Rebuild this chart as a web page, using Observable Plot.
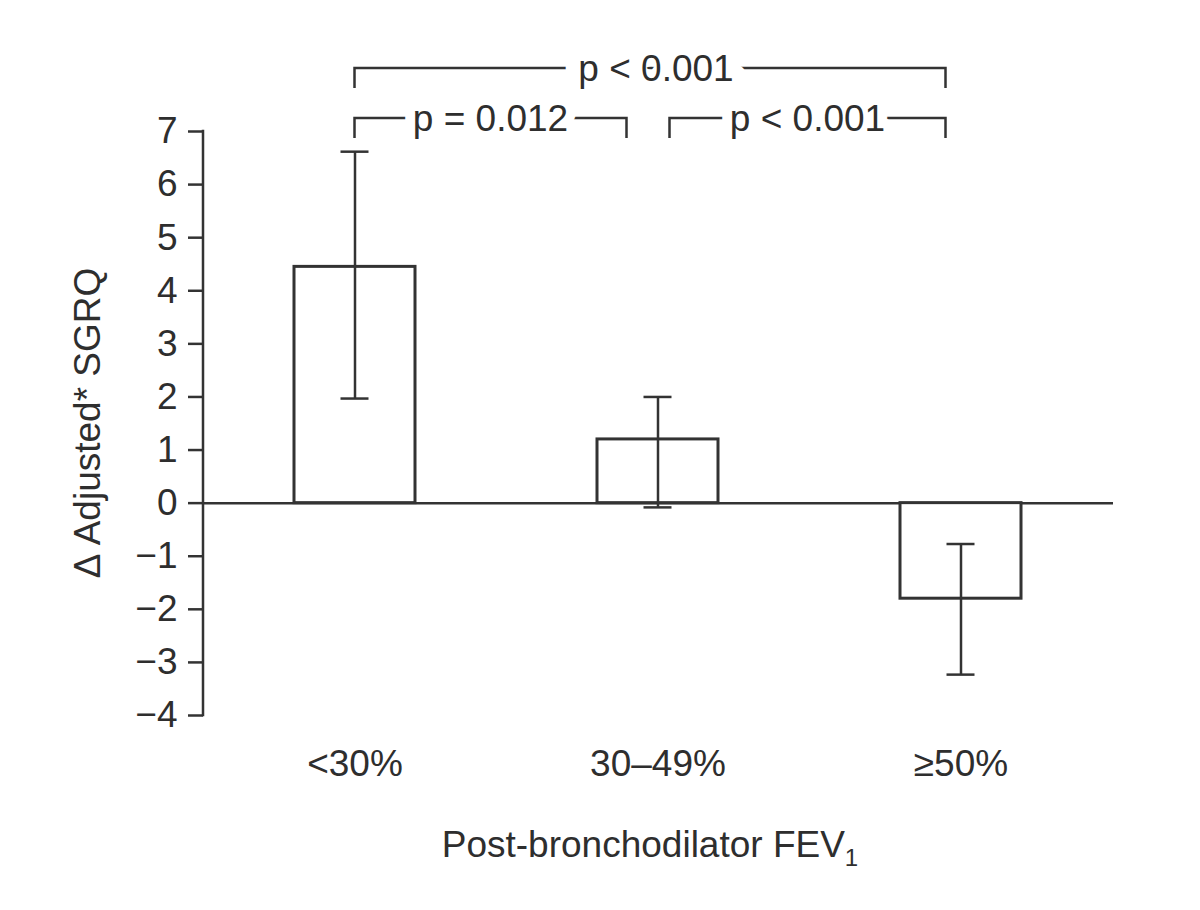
<!DOCTYPE html>
<html><head><meta charset="utf-8">
<script src="https://cdn.jsdelivr.net/npm/d3@7"></script>
<script src="https://cdn.jsdelivr.net/npm/@observablehq/plot@0.6"></script>
<style>
  html,body{margin:0;padding:0;background:#fff}
  #chart svg{display:block}
</style>
</head><body><div id="chart"></div>
<script>
// ---- data ----
const categories = ["<30%", "30–49%", "≥50%"];
const means = [4.45, 1.2, -1.8];
const lower = [1.97, -0.08, -3.23];
const upper = [6.62, 2.0, -0.77];
const yTicks = [-4, -3, -2, -1, 0, 1, 2, 3, 4, 5, 6, 7];
const compFrom = ["<30%", "30–49%", "<30%"];
const compTo = ["30–49%", "≥50%", "≥50%"];
const pLabels = ["p = 0.012", "p < 0.001", "p < 0.001"];
const yLabel = "Δ Adjusted* SGRQ";
const xLabel = "Post-bronchodilator FEV";
const xLabelSub = "1";

// ---- style ----
const INK = "#333";
const TXT = "#2e2e2e";
const FONT = "'Liberation Sans', Arial, Helvetica, sans-serif";
const FS = 37;
const SW = 2.5;
const bracketLevel = [0, 0, 1];
const bracketDxFrom = [0, 12, 0];
const bracketDxTo = [-31, -15, -15];
const bracketHalo = [20, 20, 30];

const data = categories.map((c, i) => ({cat: c, mean: means[i], lo: lower[i], hi: upper[i]}));

function annotations(index, scales, values, dims) {
  const {x, y} = scales;
  const bw = x.bandwidth();
  const cx = (c) => x(c) + bw / 2;
  const g = d3.create("svg:g");
  const lines = g.append("g").attr("fill", "none").attr("stroke", INK).attr("stroke-width", SW);
  // y axis line
  lines.append("line")
    .attr("x1", dims.marginLeft).attr("x2", dims.marginLeft)
    .attr("y1", y(yTicks[0]) + 1.25).attr("y2", y(yTicks[yTicks.length - 1]) - 1.25);
  // brackets
  const top7 = y(yTicks[yTicks.length - 1]);
  const halos = g.append("g").attr("font-family", FONT).attr("font-size", FS)
    .attr("fill", "white").attr("stroke", "white").attr("stroke-linejoin", "round");
  const texts = g.append("g").attr("font-family", FONT).attr("font-size", FS).attr("fill", TXT);
  compFrom.forEach((a, i) => {
    const x1 = cx(a) + bracketDxFrom[i];
    const x2 = cx(compTo[i]) + bracketDxTo[i];
    const yy = top7 - 13 - 50 * bracketLevel[i];
    const tx = (x1 + x2) / 2 + (bracketLevel[i] ? 6 : 0);
    lines.append("path").attr("d", `M${x1},${yy + 20}V${yy}H${x2}V${yy + 20}`);
    halos.append("text")
      .attr("x", tx).attr("y", yy).attr("dy", "0.35em")
      .attr("text-anchor", "middle")
      .attr("stroke-width", bracketHalo[i])
      .text(pLabels[i]);
    texts.append("text")
      .attr("x", tx).attr("y", yy).attr("dy", "0.35em")
      .attr("text-anchor", "middle")
      .text(pLabels[i]);
  });
  // x label with subscript
  const xl = texts.append("text")
    .attr("x", (dims.marginLeft + dims.width - dims.marginRight) / 2 - 8)
    .attr("y", y(yTicks[0]) + 142)
    .attr("text-anchor", "middle");
  xl.append("tspan").text(xLabel);
  xl.append("tspan").attr("font-size", 24).attr("dy", 9).text(xLabelSub);
  // y label
  const ymid = (y(yTicks[0]) + y(yTicks[yTicks.length - 1])) / 2;
  texts.append("text")
    .attr("transform", `translate(100,${ymid}) rotate(-90)`)
    .attr("text-anchor", "middle")
    .text(yLabel);
  return g.node();
}

const chart = Plot.plot({
  width: 1200,
  height: 910,
  marginLeft: 203,
  marginRight: 87,
  marginTop: 131,
  marginBottom: 195,
  style: {fontFamily: FONT, color: TXT, background: "white"},
  x: {type: "band", domain: categories, paddingInner: 0.6, paddingOuter: 0.3, label: null},
  y: {domain: [-4, 7], label: null},
  marks: [
    Plot.axisY({ticks: yTicks, tickSize: 15, tickPadding: 11, fontSize: FS, stroke: INK, strokeWidth: SW, fill: TXT, label: null, tickFormat: d => d < 0 ? "−" + Math.abs(d) : String(d)}),
    Plot.axisX({tickSize: 0, tickPadding: 34, fontSize: FS, fill: TXT, label: null}),
    Plot.ruleY([0], {stroke: INK, strokeWidth: SW}),
    Plot.barY(data, {x: "cat", y: "mean", fill: "white", stroke: INK, strokeWidth: 3}),
    Plot.ruleX(data, {x: "cat", y1: "lo", y2: "hi", stroke: INK, strokeWidth: SW}),
    Plot.tickY(data, {x: "cat", y: "lo", stroke: INK, strokeWidth: SW, insetLeft: 46.5, insetRight: 46.5}),
    Plot.tickY(data, {x: "cat", y: "hi", stroke: INK, strokeWidth: SW, insetLeft: 46.5, insetRight: 46.5}),
    annotations
  ]
});
document.getElementById("chart").append(chart);
</script>
</body></html>
